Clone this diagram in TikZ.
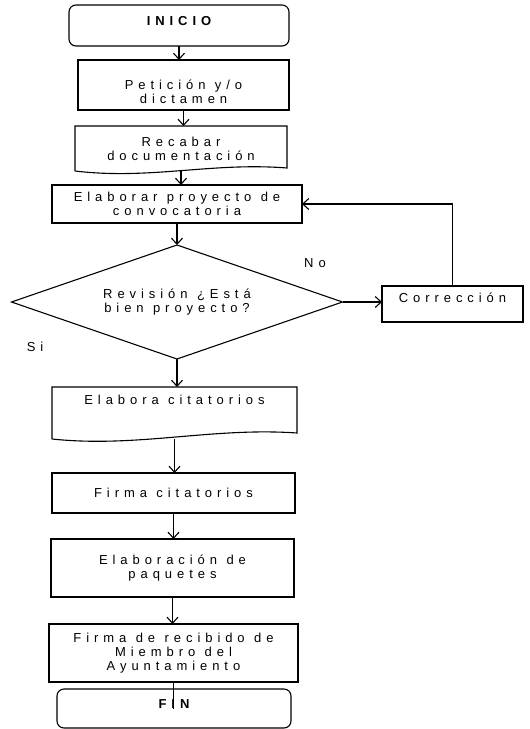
\documentclass[tikz,border=0pt]{standalone}
\usepackage{fontspec}
\setmainfont[LetterSpace=38, WordSpace=1.1]{Liberation Sans}
\usetikzlibrary{shapes.geometric,arrows.meta}

\begin{document}
\begin{tikzpicture}[x=1pt, y=-1pt, node distance=0 cm, outer sep=0pt, line width=1.1pt, font=\fontsize{13}{14}\selectfont]

\tikzstyle{place}=[draw, rectangle, align=center, inner sep=0pt, anchor=north west]
\tikzstyle{term}=[place, rounded corners=7pt, font=\fontsize{13}{14}\selectfont\bfseries]
\tikzstyle{docbox}=[rectangle, align=center, inner sep=0pt, anchor=north west]
\tikzstyle{flecha}=[-{Straight Barb[length=6pt,width=11pt]}]

\useasboundingbox (0,0) rectangle (530,729);

\node[term, minimum width=220pt, text height=20pt, text depth=21pt] (inicio) at (69,5) {INICIO};
\node[place, minimum width=211pt, minimum height=50pt] (peticion) at (78,60) {\rule{0pt}{24pt}Petición y/o\\dictamen};
\node[docbox, minimum width=212pt, minimum height=45pt] (recabar) at (75,126) {Recabar\\documentación};
\node[place, minimum width=250pt, minimum height=38pt] (elaborar) at (52,185) {Elaborar proyecto de\\convocatoria};
\node[draw, diamond, aspect=2.9, inner sep=0pt, minimum width=331pt, minimum height=114pt, align=center] (revision) at (177,302) {Revisión ¿Está\\bien proyecto?};
\node[place, minimum width=141pt, text height=16pt, text depth=20pt] (correccion) at (382,286) {Corrección};
\node (no) at (315,263.5) {No}; \node (si) at (35,346.5) {Si};
\node[docbox, minimum width=245pt, text height=17pt, text depth=35pt] (citatorios) at (52,387) {Elabora citatorios};
\node[place, minimum width=243pt, minimum height=40pt] (firma) at (52,473) {Firma citatorios};
\node[place, minimum width=243pt, minimum height=58pt] (paquetes) at (51,539) {Elaboración de\\paquetes};
\node[place, minimum width=249pt, minimum height=58pt] (recibido) at (49,624) {Firma de recibido de\\Miembro del\\Ayuntamiento};
\node[term, minimum width=234pt, text height=19pt, text depth=20pt] (fin) at (57,689) {FIN};

% hojas de documento
\draw (recabar.south west) -- (recabar.north west) -- (recabar.north east) -- ([yshift=3pt]recabar.south east) .. controls ([xshift=-75pt,yshift=9pt]recabar.south east) and ([xshift=75pt,yshift=-9pt]recabar.south west) .. (recabar.south west);
\draw (citatorios.south west) -- (citatorios.north west) -- (citatorios.north east) -- ([yshift=6pt]citatorios.south east) .. controls ([xshift=-85pt,yshift=12pt]citatorios.south east) and ([xshift=85pt,yshift=-9pt]citatorios.south west) .. (citatorios.south west);

\draw[flecha] (inicio.south) -- (inicio.south |- peticion.north);
\draw[flecha] (peticion.south) -- (peticion.south |- recabar.north);
\draw[flecha] (recabar.south) -- (recabar.south |- elaborar.north);
\draw[flecha] (elaborar.south) -- (revision.north);
\draw[flecha] (revision.east) -- (revision.east -| correccion.west);
\draw[flecha] (correccion.north) |- (elaborar.east);
\draw[flecha] (revision.south) -- (revision.south |- citatorios.north);
\draw[flecha] (citatorios.south) -- (citatorios.south |- firma.north);
\draw[flecha] (firma.south) -- (firma.south |- paquetes.north);
\draw[flecha] (paquetes.south) -- (paquetes.south |- recibido.north);
\draw (recibido.south) -- (recibido.south |- fin.center);

\end{tikzpicture}
\end{document}
